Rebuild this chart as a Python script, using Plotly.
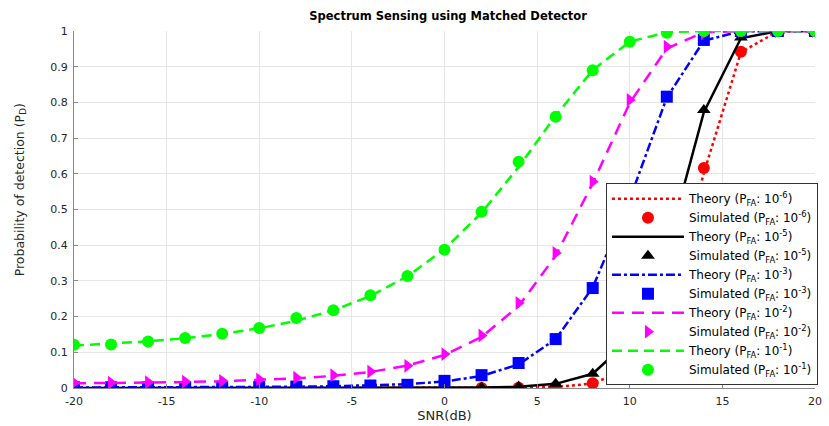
import plotly.graph_objects as go

snr = [-20, -18, -16, -14, -12, -10, -8, -6, -4, -2, 0, 2, 4, 6, 8, 10, 12, 14, 16, 18, 20]

theory_1e6 = [0.000002, 0.000002, 0.000002, 0.000003, 0.000003, 0.000004, 0.000006, 0.000009, 0.000016, 0.00003,
              0.00009, 0.00024, 0.00077, 0.0029, 0.0125, 0.0558, 0.2200, 0.6020, 0.9402, 0.9993, 1.0]
sim_1e6 = [0.0, 0.0, 0.0, 0.0, 0.0, 0.0, 0.0, 0.0, 0.0, 0.0,
           0.0001, 0.0003, 0.0008, 0.003, 0.013, 0.056, 0.22, 0.616, 0.942, 0.999, 1.0]

theory_1e5 = [0.000016, 0.000017, 0.00002, 0.000024, 0.00003, 0.000039, 0.000055, 0.000084, 0.00014, 0.00026,
              0.00055, 0.00132, 0.00368, 0.01162, 0.0398, 0.1351, 0.3883, 0.7724, 0.9796, 0.9999, 1.0]
sim_1e5 = [0.0, 0.0, 0.0, 0.0, 0.0, 0.0, 0.0, 0.0001, 0.0001, 0.0003,
           0.0006, 0.0014, 0.004, 0.012, 0.04, 0.136, 0.39, 0.779, 0.982, 1.0, 1.0]

theory_1e3 = [0.00139, 0.00152, 0.00168, 0.00192, 0.00226, 0.00277, 0.00355, 0.00481, 0.00696, 0.01084,
              0.0183, 0.0335, 0.0661, 0.1368, 0.2815, 0.5287, 0.8135, 0.9727, 0.9994, 1.0, 1.0]
sim_1e3 = [0.002, 0.002, 0.002, 0.002, 0.002, 0.003, 0.004, 0.005, 0.007, 0.009,
           0.02, 0.036, 0.07, 0.137, 0.28, 0.53, 0.816, 0.975, 1.0, 1.0, 1.0]

theory_1e2 = [0.0130, 0.0139, 0.0151, 0.0167, 0.0190, 0.0222, 0.0269, 0.0340, 0.0450, 0.0628,
              0.0924, 0.1429, 0.2292, 0.3703, 0.5736, 0.7984, 0.9510, 0.9964, 1.0, 1.0, 1.0]
sim_1e2 = [0.015, 0.015, 0.016, 0.018, 0.02, 0.024, 0.029, 0.036, 0.046, 0.062,
           0.095, 0.147, 0.238, 0.378, 0.578, 0.807, 0.956, 0.993, 1.0, 1.0, 1.0]

theory_1e1 = [0.1187, 0.1239, 0.1307, 0.1396, 0.1514, 0.1672, 0.1885, 0.2176, 0.2577, 0.3130,
              0.3891, 0.4909, 0.6192, 0.7623, 0.8907, 0.9700, 0.9965, 0.9999, 1.0, 1.0, 1.0]
sim_1e1 = [0.121, 0.122, 0.13, 0.14, 0.152, 0.168, 0.196, 0.218, 0.26, 0.314,
           0.387, 0.494, 0.634, 0.76, 0.89, 0.97, 0.995, 1.0, 1.0, 1.0, 1.0]

pfa_labels = ["-6", "-5", "-3", "-2", "-1"]
x_ticks = [-20, -15, -10, -5, 0, 5, 10, 15, 20]
y_ticks = [0, 0.1, 0.2, 0.3, 0.4, 0.5, 0.6, 0.7, 0.8, 0.9, 1]
y_tick_text = ["0", "0.1", "0.2", "0.3", "0.4", "0.5", "0.6", "0.7", "0.8", "0.9", "1"]

series = [
    (theory_1e6, sim_1e6, "#ff0000", "dot", "circle"),
    (theory_1e5, sim_1e5, "#000000", "solid", "triangle-up"),
    (theory_1e3, sim_1e3, "#0000ff", "dashdot", "square"),
    (theory_1e2, sim_1e2, "#ff00ff", "12px,8px", "triangle-right"),
    (theory_1e1, sim_1e1, "#00ff00", "10px,6px", "circle"),
]

FONT = "DejaVu Sans, Verdana, sans-serif"

fig = go.Figure()
for (th, sm, col, dash, sym), lab in zip(series, pfa_labels):
    fig.add_trace(go.Scatter(
        x=snr, y=th, mode="lines",
        line=dict(color=col, width=2.5, dash=dash),
        name=f"Theory (P<sub>FA</sub>: 10<sup>{lab}</sup>)",
    ))
    fig.add_trace(go.Scatter(
        x=snr, y=sm, mode="markers",
        marker=dict(color=col, size=12, symbol=sym, line=dict(width=0)),
        name=f"Simulated (P<sub>FA</sub>: 10<sup>{lab}</sup>)",
    ))

axis_font = dict(family=FONT, size=11, color="#262626")

fig.update_layout(
    width=829, height=426,
    margin=dict(l=74, r=7, t=31, b=38),
    paper_bgcolor="white", plot_bgcolor="white",
    title=dict(text="<b>Spectrum Sensing using Matched Detector</b>",
               x=0.5405, xanchor="center", y=0.962, yanchor="middle",
               font=dict(family=FONT, size=11.5, color="#000000")),
    font=axis_font,
    showlegend=True,
    legend=dict(x=1.004, xanchor="right", y=0.008, yanchor="bottom",
                bgcolor="white", bordercolor="#333333", borderwidth=1,
                font=dict(family=FONT, size=12, color="#000000"),
                itemwidth=72, tracegroupgap=0),
    xaxis=dict(range=[-20, 20], tickvals=x_ticks, ticktext=[str(v) for v in x_ticks],
               showgrid=True, gridcolor="#e6e6e6", zeroline=False,
               showline=True, linecolor="#888888", linewidth=1,
               ticks="inside", ticklen=4, tickcolor="#888888", ticklabelstandoff=3,
               title=dict(text="SNR(dB)", font=dict(family=FONT, size=13, color="#262626"), standoff=2),
               tickfont=axis_font),
    yaxis=dict(range=[0, 1], tickvals=y_ticks, ticktext=y_tick_text,
               showgrid=True, gridcolor="#e6e6e6", zeroline=False,
               showline=True, linecolor="#888888", linewidth=1,
               ticks="inside", ticklen=4, tickcolor="#888888", ticklabelstandoff=3,
               tickfont=axis_font),
    annotations=[dict(text="Probability of detection (P<sub>D</sub>)",
                      xref="paper", yref="paper", x=-0.0722, y=0.555,
                      xanchor="center", yanchor="middle", textangle=-90, showarrow=False,
                      font=dict(family=FONT, size=12.5, color="#262626"))],
)

fig.write_html("out.html")
